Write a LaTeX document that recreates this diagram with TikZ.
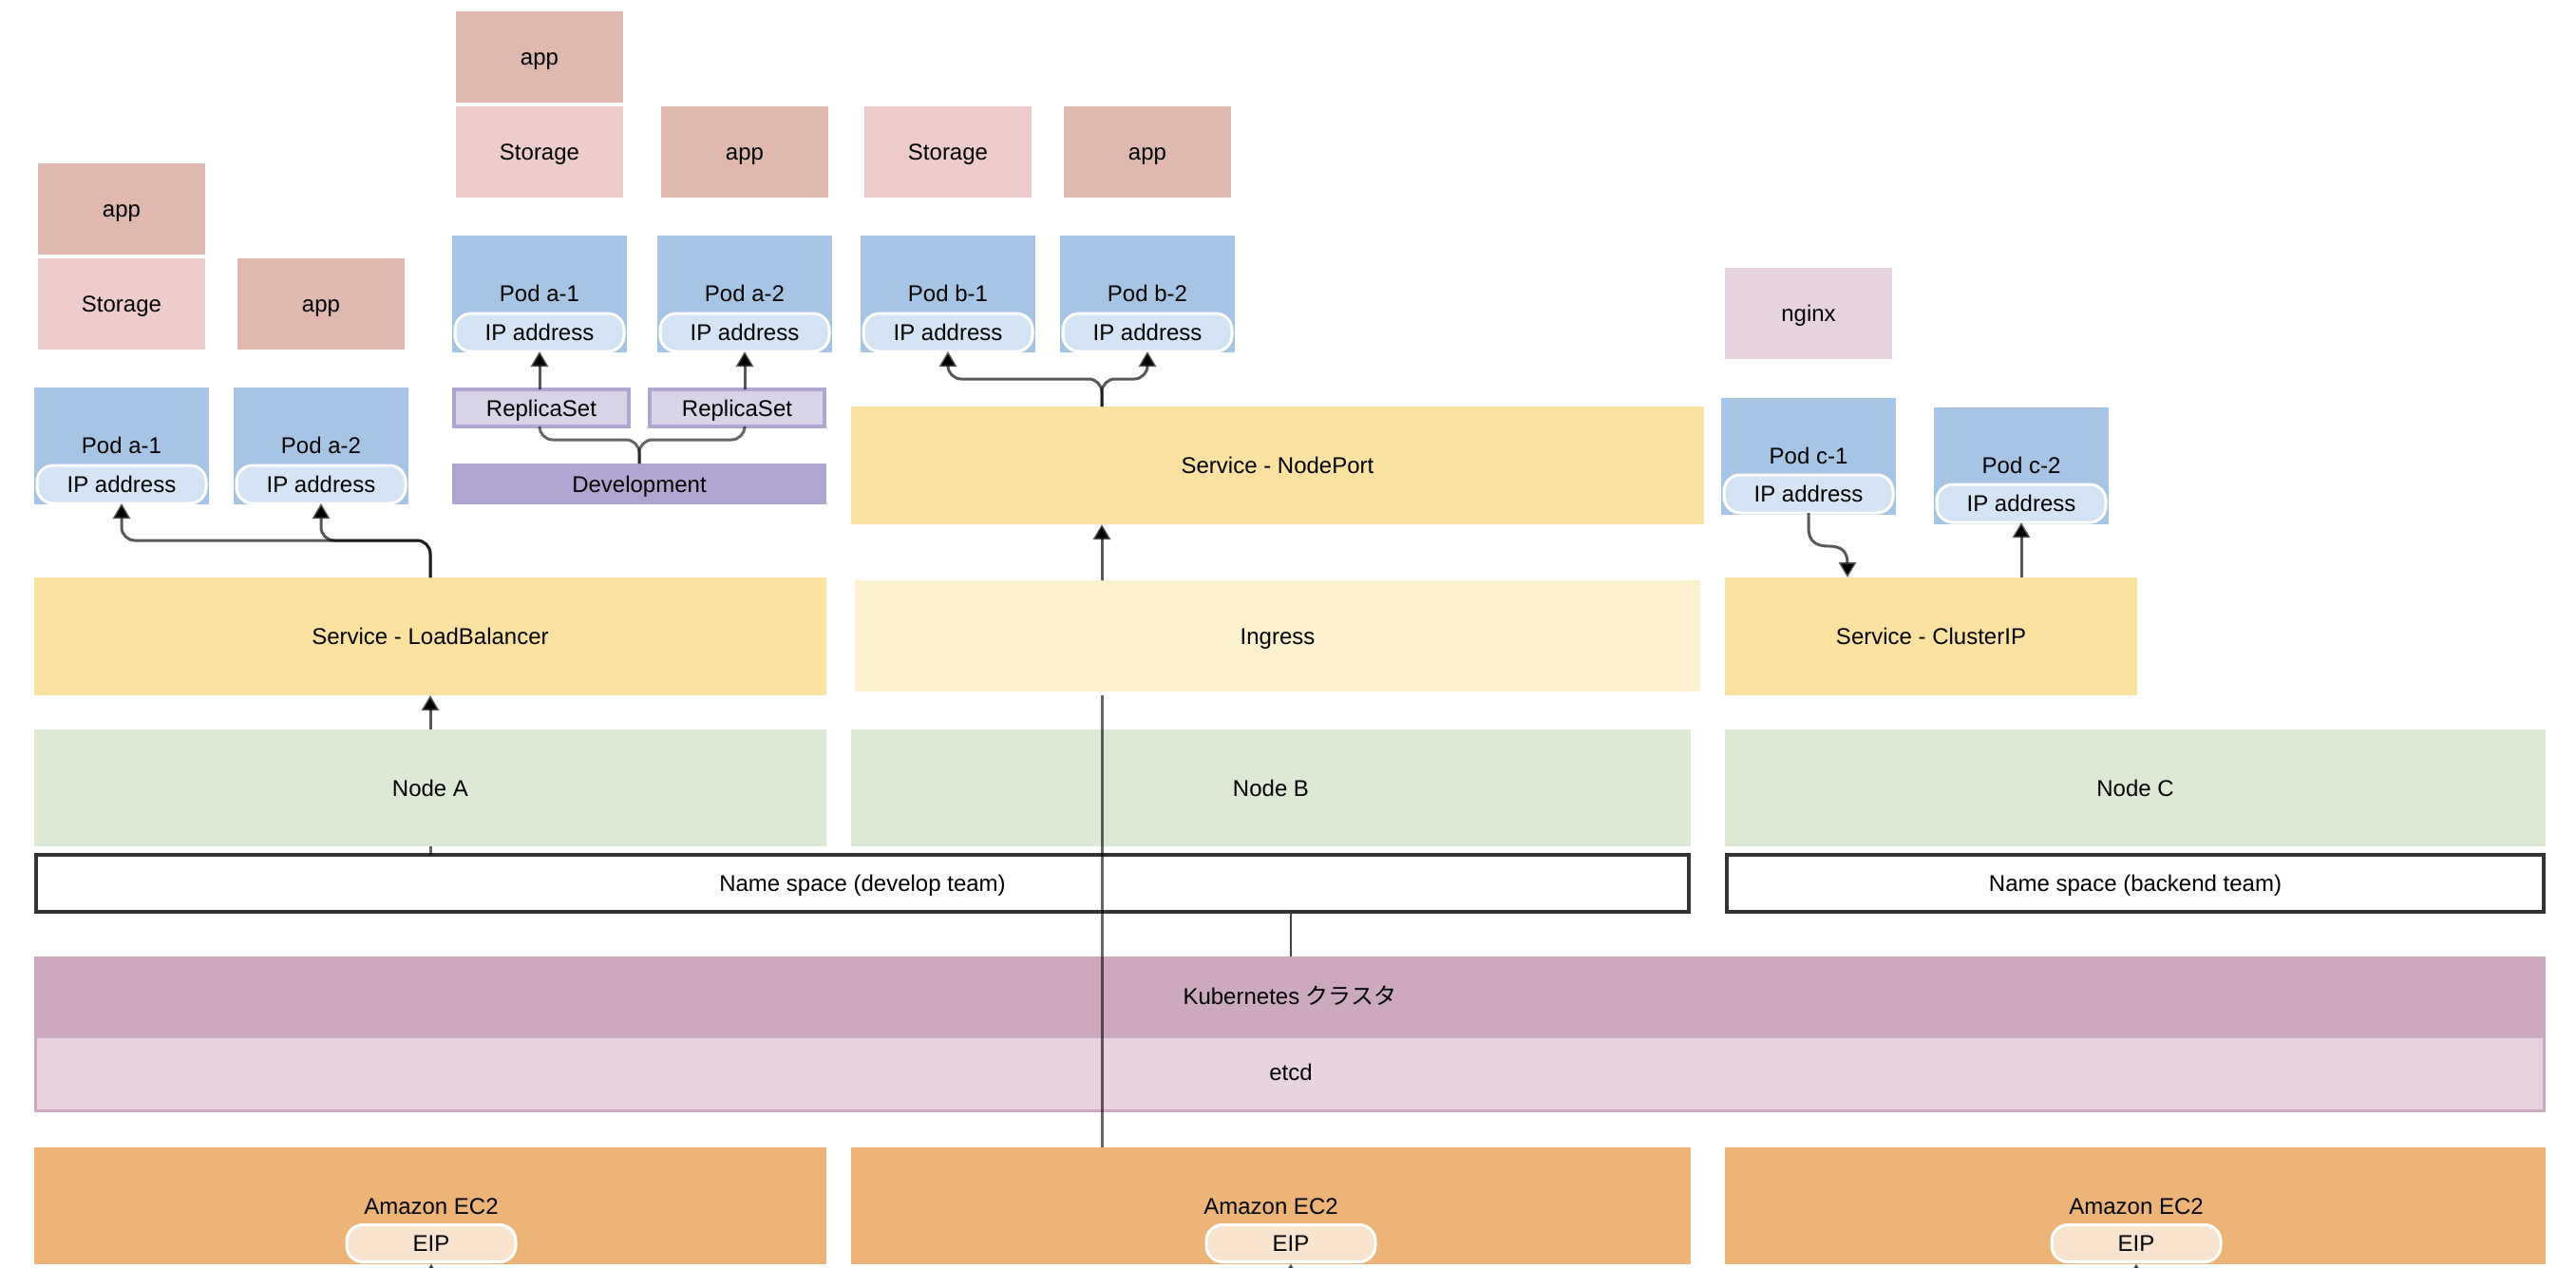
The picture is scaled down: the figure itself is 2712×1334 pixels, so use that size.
\documentclass[tikz,border=0pt]{standalone}
\usepackage{fontspec}
\setmainfont{Liberation Sans}
\newfontfamily\cjk{Noto Sans CJK JP}
\usetikzlibrary{
    arrows.meta,
    calc
}
\definecolor{appfill}{HTML}{DFB8B0}
\definecolor{storagefill}{HTML}{EECCCB}
\definecolor{podfill}{HTML}{A6C5E4}
\definecolor{ipfill}{HTML}{D5E4F4}
\definecolor{replicafill}{HTML}{D9D3E7}
\definecolor{devfill}{HTML}{B1A6D1}
\definecolor{svcfill}{HTML}{FBE2A0}
\definecolor{ingressfill}{HTML}{FBF0CE}
\definecolor{nodefill}{HTML}{DDE8D5}
\definecolor{clusterfill}{HTML}{CDA9BF}
\definecolor{etcdfill}{HTML}{E7D2DF}
\definecolor{ec2fill}{HTML}{ECB477}
\definecolor{eipfill}{HTML}{F8E4CF}
\tikzset{
    plainbox/.style={inner sep=0pt, outer sep=0pt, align=center, text height=17.2pt, text depth=0pt, font=\fontsize{24}{28}\selectfont},
    appbox/.style={plainbox, fill=appfill, minimum width=176pt, minimum height=96pt},
    storagebox/.style={appbox, fill=storagefill},
    nginxbox/.style={appbox, fill=etcdfill},
    podbox/.style={plainbox, fill=podfill, minimum width=184pt, minimum height=123pt},
    ipbox/.style={plainbox, fill=ipfill, draw=white, line width=3pt, rounded corners=17pt, minimum width=178pt, minimum height=40pt},
    replicabox/.style={plainbox, fill=replicafill, draw=devfill, line width=4pt, minimum width=184pt, minimum height=39pt},
    devbox/.style={plainbox, fill=devfill, minimum width=394pt, minimum height=43pt},
    svcbox/.style={plainbox, fill=svcfill, minimum height=124pt},
    nodebox/.style={plainbox, fill=nodefill, minimum height=123pt},
    nsbox/.style={plainbox, draw=black!80, line width=4pt, fill=white, minimum height=60pt},
    ec2box/.style={plainbox, fill=ec2fill, minimum height=123pt},
    eipbox/.style={plainbox, fill=eipfill, draw=white, line width=3pt, rounded corners=17pt, minimum width=178pt, minimum height=39pt},
    txt/.style={plainbox},
    conn/.style={draw=black, draw opacity=0.65, line width=3pt, rounded corners=14pt, -{Triangle[length=16pt, width=18pt, black]}},
    wire/.style={draw=black, draw opacity=0.6, line width=3pt, rounded corners=14pt}
}

\begin{document}
\begin{tikzpicture}[x=1pt, y=-1pt]
    \useasboundingbox[fill=white] (0,0) rectangle (2712,1334);

    % Top row, first deployment
    \node[appbox] (appa1) at (128,220) {app};
    \node[storagebox] (storea1) at (128,320) {Storage};
    \node[appbox] (appa2) at (338,320) {app};
    \node[podbox] (poda1) at (128,469.5) {};
    \node[txt] (labela1) at (128,469) {Pod a-1};
    \node[ipbox] (ipa1) at (128,510) {IP address};
    \node[podbox] (poda2) at (338,469.5) {};
    \node[txt] (labela2) at (338,469) {Pod a-2};
    \node[ipbox] (ipa2) at (338,510) {IP address};

    % Top row, second deployment
    \node[appbox] (appd1) at (568,60) {app};
    \node[storagebox] (stored1) at (568,160) {Storage};
    \node[appbox] (appd2) at (784,160) {app};
    \node[podbox] (podd1) at (568,309.5) {};
    \node[txt] (labeld1) at (568,309) {Pod a-1};
    \node[ipbox] (ipd1) at (568,350) {IP address};
    \node[podbox] (podd2) at (784,309.5) {};
    \node[txt] (labeld2) at (784,309) {Pod a-2};
    \node[ipbox] (ipd2) at (784,350) {IP address};
    \node[replicabox] (rs1) at (570,429.5) {ReplicaSet};
    \node[replicabox] (rs2) at (776,429.5) {ReplicaSet};
    \node[devbox] (dev) at (673,509.5) {Development};

    % Top row, node b
    \node[storagebox] (storeb1) at (998,160) {Storage};
    \node[appbox] (appb2) at (1208,160) {app};
    \node[podbox] (podb1) at (998,309.5) {};
    \node[txt] (labelb1) at (998,309) {Pod b-1};
    \node[ipbox] (ipb1) at (998,350) {IP address};
    \node[podbox] (podb2) at (1208,309.5) {};
    \node[txt] (labelb2) at (1208,309) {Pod b-2};
    \node[ipbox] (ipb2) at (1208,350) {IP address};

    % Top row, node c
    \node[nginxbox] (nginx) at (1904,330) {nginx};
    \node[podbox] (podc1) at (1904,480) {};
    \node[txt] (labelc1) at (1904,480) {Pod c-1};
    \node[ipbox] (ipc1) at (1904,520) {IP address};
    \node[podbox] (podc2) at (2128,490) {};
    \node[txt] (labelc2) at (2128,490) {Pod c-2};
    \node[ipbox] (ipc2) at (2128,530) {IP address};

    % Services
    \node[svcbox, minimum width=834pt] (svclb) at (453,670) {Service - LoadBalancer};
    \node[svcbox, minimum width=898pt] (svcnp) at (1345,490) {Service - NodePort};
    \node[svcbox, fill=ingressfill, minimum width=890pt, minimum height=117pt] (ingress) at (1345,669.5) {Ingress};
    \node[svcbox, minimum width=434pt] (svcip) at (2033,670) {Service - ClusterIP};

    % Worker nodes and name spaces
    \node[nodebox, minimum width=834pt] (nodea) at (453,829.5) {Node A};
    \node[nodebox, minimum width=884pt] (nodeb) at (1338,829.5) {Node B};
    \node[nodebox, minimum width=864pt] (nodec) at (2248,829.5) {Node C};
    \node[nsbox, minimum width=1740pt] (nsdev) at (908,930) {Name space (develop team)};
    \node[nsbox, minimum width=860pt] (nsback) at (2248,930) {Name space (backend team)};

    % Cluster
    \node[plainbox, fill=etcdfill, draw=clusterfill, line width=3pt, minimum width=2641pt, minimum height=78pt] (etcd) at (1358,1130.5) {};
    \node[txt] (labeletcd) at (1359,1129) {etcd};
    \node[plainbox, fill=clusterfill, minimum width=2644pt, minimum height=84pt] (cluster) at (1358,1049) {Kubernetes {\cjk クラスタ}};

    % EC2 row
    \node[ec2box, minimum width=834pt] (ec2a) at (453,1269.5) {};
    \node[txt] (labelec2a) at (454,1270) {Amazon EC2};
    \node[eipbox] (eipa) at (454,1309) {EIP};
    \node[ec2box, minimum width=884pt] (ec2b) at (1338,1269.5) {};
    \node[txt] (labelec2b) at (1338,1270) {Amazon EC2};
    \node[eipbox] (eipb) at (1359,1309) {EIP};
    \node[ec2box, minimum width=864pt] (ec2c) at (2248,1269.5) {};
    \node[txt] (labelec2c) at (2249,1270) {Amazon EC2};
    \node[eipbox] (eipc) at (2249,1309) {EIP};

    % Connectors
    \coordinate (stemb) at (1160,0);
    \coordinate (stemk) at (1359,0);
    \coordinate (tipc) at (1945,608);
    \draw[conn] (svclb.north) -- ++(0,-39) -| (ipa1.south);
    \draw[conn] (svclb.north) -- ++(0,-39) -| (ipa2.south);
    \draw[conn] (nodea.north) -- (svclb.south);
    \draw[wire] (nodea.south) -- (nodea.south |- nsdev.north);
    \draw[conn] (ipd1.south |- rs1.north) -- (ipd1.south);
    \draw[conn] (ipd2.south |- rs2.north) -- (ipd2.south);
    \draw[wire] (dev.north) -- ++(0,-25) -| (ipd1.south |- rs1.south);
    \draw[wire] (dev.north) -- ++(0,-25) -| (ipd2.south |- rs2.south);
    \draw[conn] (stemb |- svcnp.north) -- ++(0,-29) -| (ipb1.south);
    \draw[conn] (stemb |- svcnp.north) -- ++(0,-29) -| (ipb2.south);
    \draw[conn] (stemb |- ingress.north) -- (stemb |- svcnp.south);
    \draw[conn, rounded corners=0pt] (ipc1.south) -- (1904,556) .. controls (1904,570) and (1912,575) .. (1925,575) .. controls (1938,575) and (1945,580) .. (tipc);
    \draw[conn] (ipc2.south |- svcip.north) -- (ipc2.south);
    \draw[wire, shorten <=4pt] (stemb |- ingress.south) -- (stemb |- ec2b.north);
    \draw[draw=black!75, line width=2pt] (stemk |- nsdev.south) -- (stemk |- cluster.north);

    % Arrows under the EIP pills, cut off by the page edge
    \draw[conn] ($(eipa.south)+(0,20)$) -- ($(eipa.south)+(0,2)$);
    \draw[conn] ($(eipb.south)+(0,20)$) -- ($(eipb.south)+(0,2)$);
    \draw[conn] ($(eipc.south)+(0,20)$) -- ($(eipc.south)+(0,2)$);
\end{tikzpicture}
\end{document}
